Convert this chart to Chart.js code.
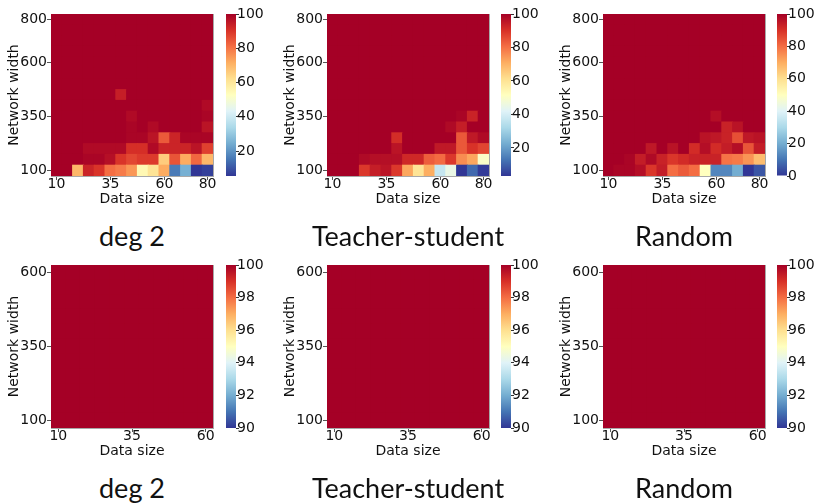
<!DOCTYPE html>
<html><head><meta charset="utf-8">
<script src="https://cdn.jsdelivr.net/npm/chart.js@4.4.0/dist/chart.umd.min.js"></script>
<style>
html,body{margin:0;padding:0;background:#fff;width:814px;height:503px;overflow:hidden;position:relative;}
canvas{position:absolute;}
.ttl{position:absolute;font-family:Lato,"Open Sans",sans-serif;font-size:27px;line-height:28px;text-align:center;width:260px;white-space:nowrap;color:#111;}
</style></head><body>
<script>
// ---------- data ----------
const dataSizesTop = [10,15,20,25,30,35,40,45,50,55,60,65,70,75,80];
const widthsTop = [100,150,200,250,300,350,400,450,500,550,600,650,700,750,800];
const xTickLabelsTop = [10,35,60,80];
const yTickLabelsTop = [100,350,600,800];

const dataSizesBottom = [10,15,20,25,30,35,40,45,50,55,60];
const widthsBottom = [100,150,200,250,300,350,400,450,500,550,600];
const xTickLabelsBottom = [10,35,60];
const yTickLabelsBottom = [100,350,600];

const titles = ['deg 2','Teacher-student','Random'];

// rows: network width 100 (first) ... 800 (last); columns: data size 10 ... 80
const deg2Top = [
 [100,100,70,93,90,81,79,75,55,61,72,16,25,5.5,7],
 [100,100,100,99,99,97,90,87,89,89,66,85,72,82,70],
 [100,100,100,98,98,98,98,91,91,98,93,93,93,96,88],
 [100,100,100,100,100,100,100,99,99,96,84,93,99,99,99],
 [100,100,100,100,100,100,100,99,100,98,100,100,100,100,96],
 [100,100,100,100,100,100,100,98,100,100,100,100,100,100,99],
 [100,100,100,100,100,100,100,100,100,100,100,100,100,100,98],
 [100,100,100,100,100,100,94,100,100,100,100,100,100,100,100],
 [100,100,100,100,100,100,100,100,100,100,100,100,100,100,100],
 [100,100,100,100,100,100,100,100,100,100,100,100,100,100,100],
 [100,100,100,100,100,100,100,100,100,100,100,100,100,100,100],
 [100,100,100,100,100,100,100,100,100,100,100,100,100,100,100],
 [100,100,100,100,100,100,100,100,100,100,100,100,100,100,100],
 [100,100,100,100,100,100,100,100,100,100,100,100,100,100,100],
 [100,100,100,100,100,100,100,100,100,100,100,100,100,100,100]
];
const teacherTop = [
 [100,100,100,89,94,96,89,72,60,71,37,45,3.2,11,4],
 [100,100,100,98,97,97,97,92,92,83,81,89,76,72,50],
 [100,100,100,100,100,100,96,100,100,100,95,95,84,90,87],
 [100,100,100,100,100,100,91,100,100,100,100,100,84,95,98],
 [100,100,100,100,100,100,100,100,100,100,100,98,94,100,100],
 [100,100,100,100,100,100,100,100,100,100,100,100,99,93,100],
 [100,100,100,100,100,100,100,100,100,100,100,100,100,100,100],
 [100,100,100,100,100,100,100,100,100,100,100,100,100,100,100],
 [100,100,100,100,100,100,100,100,100,100,100,100,100,100,100],
 [100,100,100,100,100,100,100,100,100,100,100,100,100,100,100],
 [100,100,100,100,100,100,100,100,100,100,100,100,100,100,100],
 [100,100,100,100,100,100,100,100,100,100,100,100,100,100,100],
 [100,100,100,100,100,100,100,100,100,100,100,100,100,100,100],
 [100,100,100,100,100,100,100,100,100,100,100,100,100,100,100],
 [100,100,100,100,100,100,100,100,100,100,100,100,100,100,100]
];
const randomTop = [
 [100,99,99,97,89,94,80,83,80,50,13,13,20,0,5],
 [100,100,99,94,98,93,89,91,93,93,93,79,78,74,67],
 [100,100,100,100,95,100,96,100,91,97,91,94,97,84,94],
 [100,100,100,100,100,100,100,100,100,96,95,93,85,95,96],
 [100,100,100,100,100,100,100,100,100,100,100,93,96,100,100],
 [100,100,100,100,100,100,100,100,100,100,97,100,100,100,100],
 [100,100,100,100,100,100,100,100,100,100,100,100,100,100,100],
 [100,100,100,100,100,100,100,100,100,100,100,100,100,100,100],
 [100,100,100,100,100,100,100,100,100,100,100,100,100,100,100],
 [100,100,100,100,100,100,100,100,100,100,100,100,100,100,100],
 [100,100,100,100,100,100,100,100,100,100,100,100,100,100,100],
 [100,100,100,100,100,100,100,100,100,100,100,100,100,100,100],
 [100,100,100,100,100,100,100,100,100,100,100,100,100,100,100],
 [100,100,100,100,100,100,100,100,100,100,100,100,100,100,100],
 [100,100,100,100,100,100,100,100,100,100,100,100,100,100,100]
];
const deg2Bottom = [
 [100,100,100,100,100,100,100,100,100,100,100],
 [100,100,100,100,100,100,100,100,100,100,100],
 [100,100,100,100,100,100,100,100,100,100,100],
 [100,100,100,100,100,100,100,100,100,100,100],
 [100,100,100,100,100,100,100,100,100,100,100],
 [100,100,100,100,100,100,100,100,100,100,100],
 [100,100,100,100,100,100,100,100,100,100,100],
 [100,100,100,100,100,100,100,100,100,100,100],
 [100,100,100,100,100,100,100,100,100,100,100],
 [100,100,100,100,100,100,100,100,100,100,100],
 [100,100,100,100,100,100,100,100,100,100,100]
];
const teacherBottom = [
 [100,100,100,100,100,100,100,100,100,100,100],
 [100,100,100,100,100,100,100,100,100,100,100],
 [100,100,100,100,100,100,100,100,100,100,100],
 [100,100,100,100,100,100,100,100,100,100,100],
 [100,100,100,100,100,100,100,100,100,100,100],
 [100,100,100,100,100,100,100,100,100,100,100],
 [100,100,100,100,100,100,100,100,100,100,100],
 [100,100,100,100,100,100,100,100,100,100,100],
 [100,100,100,100,100,100,100,100,100,100,100],
 [100,100,100,100,100,100,100,100,100,100,100],
 [100,100,100,100,100,100,100,100,100,100,100]
];
const randomBottom = [
 [100,100,100,100,100,100,100,100,100,100,100],
 [100,100,100,100,100,100,100,100,100,100,100],
 [100,100,100,100,100,100,100,100,100,100,100],
 [100,100,100,100,100,100,100,100,100,100,100],
 [100,100,100,100,100,100,100,100,100,100,100],
 [100,100,100,100,100,100,100,100,100,100,100],
 [100,100,100,100,100,100,100,100,100,100,100],
 [100,100,100,100,100,100,100,100,100,100,100],
 [100,100,100,100,100,100,100,100,100,100,100],
 [100,100,100,100,100,100,100,100,100,100,100],
 [100,100,100,100,100,100,100,100,100,100,100]
];

const cbarTicksTop = [[20,40,60,80,100],[20,40,60,80,100],[0,20,40,60,80,100]];
const cbarTicksBottom = [90,92,94,96,98,100];
const cbarMinBottom = 90;
const cbarMax = 100;

// ---------- colormap (RdYlBu reversed) ----------
const cmapStops = ['#313695','#4575b4','#74add1','#abd9e9','#e0f3f8','#ffffbf','#fee090','#fdae61','#f46d43','#d73027','#a50026'];
function hexRgb(h){return [parseInt(h.slice(1,3),16),parseInt(h.slice(3,5),16),parseInt(h.slice(5,7),16)];}
function cmap(t){
  t = Math.max(0, Math.min(1, t));
  const s = t * 10, i = Math.min(9, Math.floor(s)), f = s - i;
  const a = hexRgb(cmapStops[i]), b = hexRgb(cmapStops[i+1]);
  const c = a.map((v,k) => Math.round(v + (b[k]-v)*f));
  return 'rgb(' + c.join(',') + ')';
}

// ---------- layout ----------
const FONT = {family: 'DejaVu Sans', size: 14};
const TXT = '#111';
const TICKC = '#555';
const FRAME = '#a8a8a8';
const colLefts = [51, 327, 603];
const cbLefts = [226, 501, 777];
const rowTops = [14, 265];
const rowHeights = [162, 163];
const HM_W = 162;

function minOf(m){ return Math.min.apply(null, m.map(r => Math.min.apply(null, r))); }

function addCanvas(left, top, w, h){
  const cv = document.createElement('canvas');
  cv.width = w; cv.height = h;
  cv.style.left = left + 'px'; cv.style.top = top + 'px';
  cv.style.width = w + 'px'; cv.style.height = h + 'px';
  document.body.appendChild(cv);
  return cv;
}

function makeHeatmap(p){
  const W = 51 + HM_W + 8, H = 14 + p.h + 40;
  const cv = addCanvas(p.left - 51, p.top - 14, W, H);
  const half = (p.ys[1] - p.ys[0]) / 2;
  const datasets = p.values.map((row, r) => ({
    data: row.map(() => [p.ys[r] - half, p.ys[r] + half]),
    backgroundColor: row.map(v => cmap((v - p.vmin) / (p.vmax - p.vmin))),
    borderWidth: 0, borderSkipped: false, grouped: false,
    categoryPercentage: 1, barPercentage: 1, inflateAmount: 0.5, clip: 0
  }));
  const xlabels = p.xs.map(String);
  const xt = p.xTicks.map(String);
  new Chart(cv, {
    type: 'bar',
    data: {labels: xlabels, datasets},
    options: {
      responsive: false, animation: false, devicePixelRatio: 1,
      layout: {padding: {top: 14, right: 8, left: 0, bottom: 0}},
      plugins: {legend: {display: false}, tooltip: {enabled: false}},
      scales: {
        x: {
          type: 'category', offset: true, z: 1,
          grid: {offset: false, drawOnChartArea: false, drawTicks: true, tickLength: 4, color: TICKC},
          border: {display: true, color: FRAME},
          ticks: {autoSkip: false, maxRotation: 0, padding: -4, font: FONT, color: TXT,
            callback: function(v){ const l = this.getLabelForValue(v); return xt.includes(l) ? l : null; }},
          title: {display: true, text: 'Data size', font: FONT, color: TXT, padding: {top: 0, bottom: 8.6}},
          afterFit: s => { s.height = 40; }
        },
        y: {
          type: 'linear', min: p.ys[0] - half, max: p.ys[p.ys.length-1] + half, z: 1,
          afterBuildTicks: s => { s.ticks = p.yTicks.map(v => ({value: v})); },
          grid: {drawOnChartArea: false, drawTicks: true, tickLength: 4, color: TICKC},
          border: {display: true, color: FRAME},
          ticks: {padding: 0, font: FONT, color: TXT},
          title: {display: true, text: 'Network width', font: FONT, color: TXT, padding: {top: 6, bottom: 0}},
          afterFit: s => { s.width = 51; }
        },
        xTop: {
          type: 'linear', position: 'top', min: 0, max: 1, z: 1,
          ticks: {display: false}, grid: {display: false, drawTicks: false},
          border: {display: true, color: FRAME},
          afterFit: s => { s.height = 0; }
        },
        yRight: {
          type: 'linear', position: 'right', min: 0, max: 1, z: 1,
          ticks: {display: false}, grid: {display: false, drawTicks: false},
          border: {display: true, color: FRAME},
          afterFit: s => { s.width = 0; }
        }
      }
    }
  });
}

function makeColorbar(p){
  const W = 10 + 44, H = 14 + p.h + 10;
  const cv = addCanvas(p.cbLeft, p.top - 14, W, H);
  const vmin = p.vmin, vmax = p.vmax;
  new Chart(cv, {
    type: 'bar',
    data: {labels: [''], datasets: [{
      data: [[vmin, vmax]],
      backgroundColor: function(ctx){
        const ch = ctx.chart, ys = ch.scales && ch.scales.y;
        if (!ch.chartArea || !ys) return cmap(1);
        const g = ch.ctx.createLinearGradient(0, ys.getPixelForValue(vmin), 0, ys.getPixelForValue(vmax));
        cmapStops.forEach((c, i) => g.addColorStop(i / 10, c));
        return g;
      },
      borderWidth: 0, categoryPercentage: 1, barPercentage: 1, inflateAmount: 0, clip: 0
    }]},
    options: {
      responsive: false, animation: false, devicePixelRatio: 1,
      layout: {padding: {top: 14, right: 0, left: 0, bottom: 10}},
      plugins: {legend: {display: false}, tooltip: {enabled: false}},
      scales: {
        x: {display: false},
        y: {
          type: 'linear', position: 'right', min: vmin, max: vmax, z: 1,
          afterBuildTicks: s => { s.ticks = p.cbTicks.map(v => ({value: v})); },
          grid: {drawOnChartArea: false, drawTicks: true, tickLength: 3, color: '#333'},
          border: {display: false},
          ticks: {padding: -2, font: FONT, color: TXT},
          afterFit: s => { s.width = 44; }
        }
      }
    }
  });
}

function makeTitle(text, cx, baseline){
  const d = document.createElement('div');
  d.className = 'ttl';
  d.textContent = text;
  d.style.left = (cx - 130) + 'px';
  d.style.top = (baseline - 24.5) + 'px';
  document.body.appendChild(d);
}

const topMats = [deg2Top, teacherTop, randomTop];
const bottomMats = [deg2Bottom, teacherBottom, randomBottom];
for (let c = 0; c < 3; c++) {
  const pt = {values: topMats[c], xs: dataSizesTop, ys: widthsTop, xTicks: xTickLabelsTop, yTicks: yTickLabelsTop,
    vmin: minOf(topMats[c]), vmax: cbarMax, cbTicks: cbarTicksTop[c],
    left: colLefts[c], cbLeft: cbLefts[c], top: rowTops[0], h: rowHeights[0]};
  makeHeatmap(pt); makeColorbar(pt);
  makeTitle(titles[c], colLefts[c] + HM_W/2, 246.7);
  const pb = {values: bottomMats[c], xs: dataSizesBottom, ys: widthsBottom, xTicks: xTickLabelsBottom, yTicks: yTickLabelsBottom,
    vmin: cbarMinBottom, vmax: cbarMax, cbTicks: cbarTicksBottom,
    left: colLefts[c], cbLeft: cbLefts[c], top: rowTops[1], h: rowHeights[1]};
  makeHeatmap(pb); makeColorbar(pb);
  makeTitle(titles[c], colLefts[c] + HM_W/2, 498);
}
</script>
</body></html>
